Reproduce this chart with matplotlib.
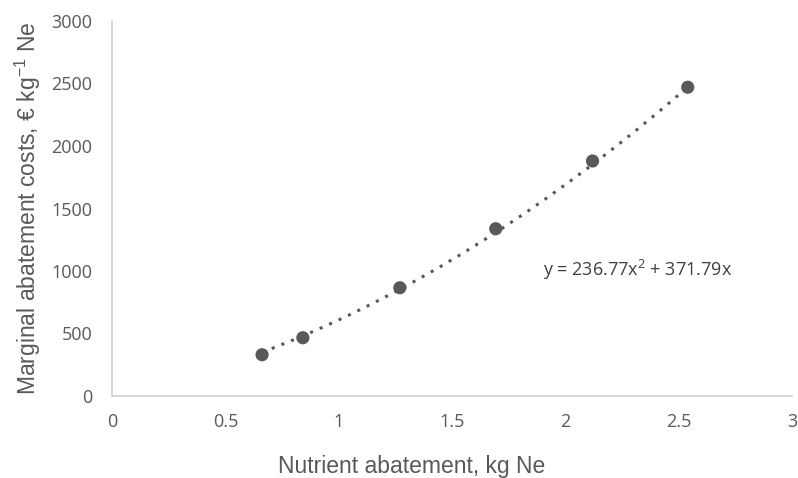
import matplotlib
matplotlib.use("Agg")
import matplotlib.pyplot as plt
import numpy as np

x_vals = [0.662, 0.842, 1.27, 1.693, 2.12, 2.54]
y_vals = [330, 466, 866, 1338, 1880, 2470]
coef_a = 236.77
coef_b = 371.79
x_ticks = [0, 0.5, 1, 1.5, 2, 2.5, 3]
x_tick_labels = ["0", "0.5", "1", "1.5", "2", "2.5", "3"]
y_ticks = [0, 500, 1000, 1500, 2000, 2500, 3000]
equation = "y = 236.77x$^{2}$ + 371.79x"

plt.rcParams['mathtext.fontset'] = 'custom'
plt.rcParams['mathtext.rm'] = 'Open Sans'
plt.rcParams['mathtext.it'] = 'Open Sans'

fig = plt.figure(figsize=(7.98, 4.78), dpi=100)
ax = fig.add_axes([112/798, 1-396/478, (792-112)/798, (396-21)/478])

gray = '#595959'
xs = np.linspace(min(x_vals), max(x_vals), 200)
ax.plot(xs, coef_a*xs**2 + coef_b*xs, linestyle=(0, (1, 2.4)), color=gray, lw=2.2, zorder=2)
ax.scatter(x_vals, y_vals, s=90, color=gray, zorder=3, edgecolors='none')

ax.set_xlim(0, 3)
ax.set_ylim(0, 3000)
ax.set_xticks(x_ticks)
ax.set_xticklabels(x_tick_labels)
ax.set_yticks(y_ticks)
for s in ['top', 'right']:
    ax.spines[s].set_visible(False)
for s in ['left', 'bottom']:
    ax.spines[s].set_color('#D0D0D0')
    ax.spines[s].set_linewidth(1.2)
ax.tick_params(length=0, colors=gray, labelsize=13)
ax.tick_params(axis='x', pad=12)
ax.tick_params(axis='y', pad=14)
for lab in ax.get_xticklabels() + ax.get_yticklabels():
    lab.set_fontfamily('Open Sans')

ax.set_xlabel("Nutrient abatement, kg Ne", fontsize=16.5, color=gray,
              fontfamily='Liberation Sans')
ax.xaxis.set_label_coords((412-112)/680, -(467-396)/375, transform=ax.transAxes)
ax.xaxis.label.set_va('center')
ax.set_ylabel("Marginal abatement costs, € kg$^{\\mathregular{-1}}$ Ne", fontsize=16.5, color=gray,
              fontfamily='Liberation Sans', labelpad=6)
ax.text(1.9, 1010, equation, fontsize=13, color='#404040', fontfamily='Open Sans',
        va='center', ha='left')

fig.savefig("out.png", dpi=100)
